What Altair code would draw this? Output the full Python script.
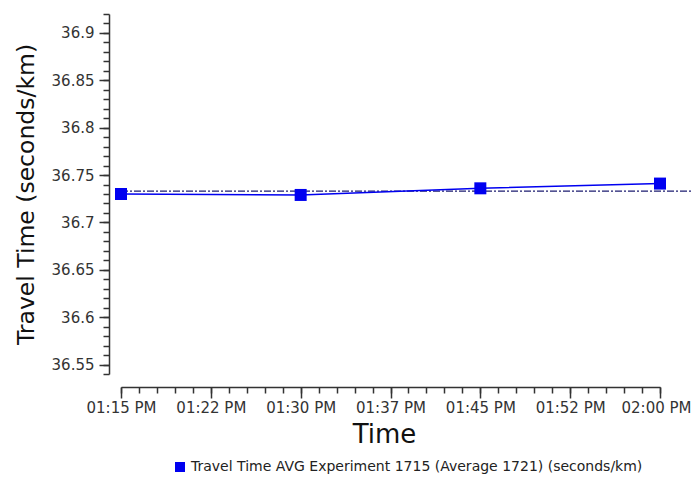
import altair as alt
import pandas as pd

# ---- data ----
times = ["13:15", "13:30", "13:45", "14:00"]
travel_time = [36.730, 36.729, 36.736, 36.741]
average_line = [36.733]
series_name = "Travel Time AVG Experiment 1715 (Average 1721) (seconds/km)"

x_tick_labels = ["01:15 PM", "01:22 PM", "01:30 PM", "01:37 PM", "01:45 PM", "01:52 PM", "02:00 PM"]
y_tick_values = [36.55, 36.6, 36.65, 36.7, 36.75, 36.8, 36.85, 36.9]
y_domain = [36.54, 36.92]


def to_minutes(t):
    h, m = t.split(":")
    return (int(h) - 12) * 60 + int(m)


minutes = [to_minutes(t) for t in times]
x_start, x_end = minutes[0], minutes[-1]
major_step = (x_end - x_start) / (len(x_tick_labels) - 1)
x_major = [x_start + i * major_step for i in range(len(x_tick_labels))]
x_minor = [x_start + i * major_step / 5 for i in range(5 * (len(x_tick_labels) - 1) + 1)]
y_minor = [round(y_domain[0] + i * 0.01, 2) for i in range(int(round((y_domain[1] - y_domain[0]) / 0.01)) + 1)]

df = pd.DataFrame({"t": minutes, "v": travel_time, "series": [series_name] * len(times)})
ref = pd.DataFrame({"ref": average_line})

W, H = 539, 360
PAD = {"left": 113, "top": 6, "right": 32, "bottom": 100}
FONT = "DejaVu Sans"

label_array = "[" + ",".join("'%s'" % s for s in x_tick_labels) + "]"
label_expr = f"{label_array}[round((datum.value - {x_start}) / {major_step})]"

xscale = alt.Scale(domain=[x_start, x_end], nice=False, zero=False)
yscale = alt.Scale(domain=y_domain, nice=False, zero=False)

color = alt.Color(
    "series:N",
    scale=alt.Scale(range=["#0000f0"]),
    legend=alt.Legend(
        title=None,
        orient="none",
        legendX=52,
        legendY=446,
        symbolType="square",
        symbolSize=100,
        symbolFillColor="#0000f0",
        symbolStrokeWidth=0,
        labelFont=FONT,
        labelFontSize=14,
        labelColor="#222",
        labelLimit=700,
        padding=0,
    ),
)

rule = alt.Chart(ref).mark_rule(color="#1c1c70", strokeWidth=1.2, strokeDash=[7, 2, 2, 2]).encode(
    y=alt.Y("ref:Q", scale=yscale, axis=None),
    x=alt.value(0),
    x2=alt.value(W + PAD["right"]),
)

line = alt.Chart(df).mark_line(strokeWidth=1.5, color="#3535ff").encode(
    x=alt.X(
        "t:Q",
        scale=xscale,
        axis=alt.Axis(
            values=x_major,
            labelExpr=label_expr,
            title="Time",
            titleX=263,
            offset=13,
            orient="bottom",
            tickSize=11,
            tickWidth=1.5,
            tickColor="#333",
            domainColor="#333",
            domainWidth=1.5,
            labelFont=FONT,
            labelFontSize=15,
            labelColor="#333",
            labelPadding=2,
            labelOffset={"condition": {"test": f"datum.value >= {x_end}", "value": -4}, "value": 0},
            labelOverlap=False,
            labelFlush=False,
            titleFont=FONT,
            titleFontSize=26,
            titleFontWeight="normal",
            titleColor="#111",
            titlePadding=6,
            grid=False,
        ),
    ),
    y=alt.Y(
        "v:Q",
        scale=yscale,
        axis=alt.Axis(
            values=y_tick_values,
            format=".2~f",
            title="Travel Time (seconds/km)",
            offset=12,
            orient="left",
            tickSize=10,
            tickWidth=1.5,
            tickColor="#333",
            domainColor="#333",
            domainWidth=1.5,
            labelFont=FONT,
            labelFontSize=15,
            labelColor="#333",
            labelPadding=5,
            labelOverlap=False,
            labelFlush=False,
            titleFont=FONT,
            titleFontSize=23.5,
            titleFontWeight="normal",
            titleColor="#111",
            titlePadding=13,
            grid=False,
        ),
    ),
    color=color,
)

points = alt.Chart(df).mark_point(shape="square", filled=True, size=144, opacity=1).encode(
    x=alt.X("t:Q", scale=xscale, axis=None),
    y=alt.Y("v:Q", scale=yscale, axis=None),
    color=color,
)

minor = alt.Chart(df).mark_point(opacity=0).encode(
    x=alt.X(
        "t:Q",
        scale=xscale,
        axis=alt.Axis(
            values=x_minor, labels=False, domain=False, title=None, offset=13,
            orient="bottom", tickSize=6, tickWidth=1.5, tickColor="#333", grid=False,
        ),
    ),
    y=alt.Y(
        "v:Q",
        scale=yscale,
        axis=alt.Axis(
            values=y_minor, labels=False, domain=False, title=None, offset=12,
            orient="left", tickSize=6, tickWidth=1.5, tickColor="#333", grid=False,
        ),
    ),
)

chart = (
    alt.layer(rule, line, points, minor)
    .resolve_axis(x="independent", y="independent")
    .properties(
        width=W,
        height=H,
        padding=PAD,
        autosize=alt.AutoSizeParams(type="none"),
        background="white",
    )
    .configure_view(stroke=None)
)

chart.save("out.html", embed_options={"renderer": "svg", "actions": False})
